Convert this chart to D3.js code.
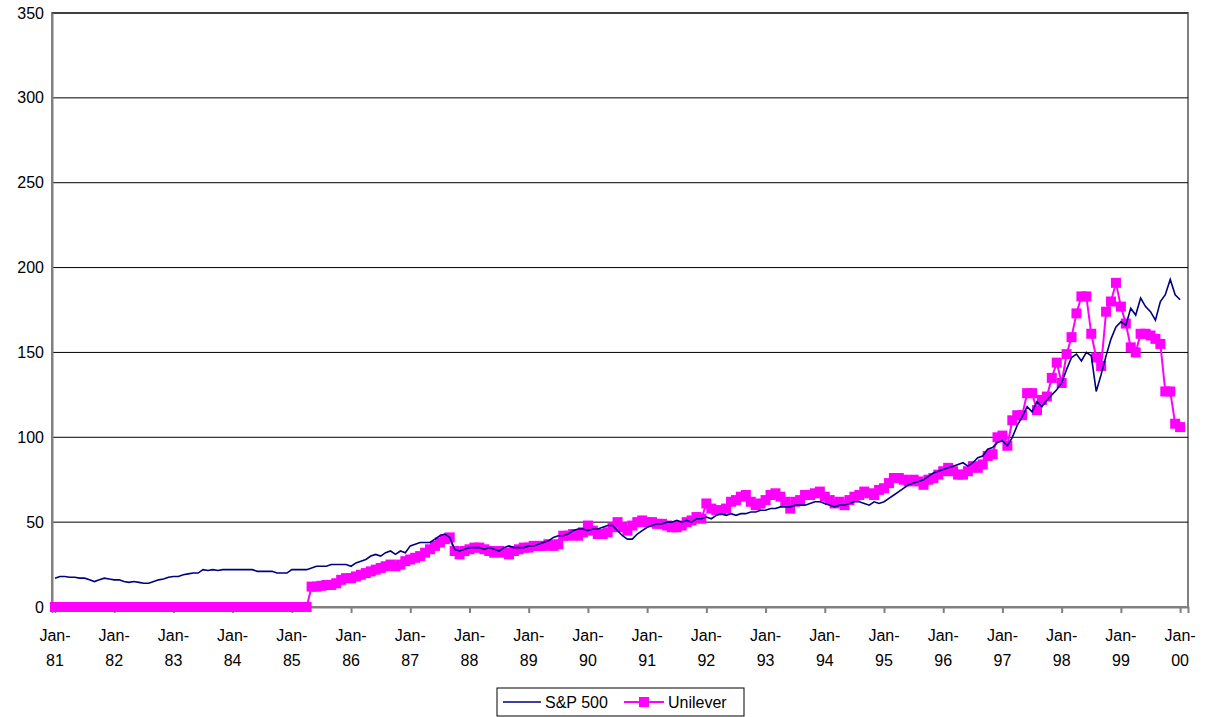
<!DOCTYPE html>
<html>
<head>
<meta charset="utf-8">
<script src="https://cdn.jsdelivr.net/npm/d3@7"></script>
<style>
  body { margin: 0; background: #fff; }
  text { font-family: Arial, "Liberation Sans", sans-serif; }
</style>
</head>
<body>
<svg id="chart" width="1207" height="717"></svg>
<script>
"use strict";

// monthly values, Jan-81 .. Jan-00
const sp500 = [
  17, 18, 18, 17.5, 17.5, 17, 17, 16, 15, 16, 17, 16.5,          // 81
  16, 16, 15, 14.5, 15, 14.5, 14, 14, 15, 16, 16.5, 17.5,       // 82
  18, 18, 19, 19.5, 20, 20, 22, 21.5, 22, 21.5, 22, 22,         // 83
  22, 22, 22, 22, 22, 21, 21, 21, 21, 20, 20, 20,               // 84
  22, 22, 22, 22, 23, 24, 24, 24, 25, 25, 25, 25,               // 85
  24, 26, 27, 28, 30, 31, 30, 32, 33, 31, 33, 32,               // 86
  36, 37, 38, 38, 38, 40, 42, 43, 41, 34, 33, 34,               // 87
  35, 35, 35, 34, 35, 34, 33, 35, 36, 35, 35, 35,               // 88
  36, 36, 37, 38, 39, 41, 42, 42, 43, 45, 46, 46,               // 89
  45, 46, 46, 47, 48, 48, 45, 42, 40, 40, 43, 45,               // 90
  47, 48, 49, 49, 50, 50, 51, 50, 51, 50, 52, 52,               // 91
  53, 52, 54, 55, 54, 55, 54, 55, 55, 56, 56, 57,               // 92
  57, 58, 58, 59, 59, 59, 60, 60, 60, 61, 62, 62,               // 93
  61, 60, 59, 60, 60, 61, 62, 62, 61, 60, 62, 61,               // 94
  62, 64, 66, 68, 70, 72, 73, 74, 75, 77, 79, 80,               // 95
  81, 82, 83, 84, 85, 83, 85, 88, 89, 93, 94, 97,               // 96
  98, 95, 100, 107, 112, 118, 115, 121, 118, 122, 125, 128,     // 97
  132, 140, 147, 149, 145, 150, 148, 127, 137, 148, 158, 165,   // 98
  168, 166, 176, 172, 182, 177, 174, 169, 180, 184, 193, 184,   // 99
  181                                                           // 00
]

const unilever = [
  0, 0, 0, 0, 0, 0, 0, 0, 0, 0, 0, 0,                           // 81
  0, 0, 0, 0, 0, 0, 0, 0, 0, 0, 0, 0,                           // 82
  0, 0, 0, 0, 0, 0, 0, 0, 0, 0, 0, 0,                           // 83
  0, 0, 0, 0, 0, 0, 0, 0, 0, 0, 0, 0,                           // 84
  0, 0, 0, 0, 12, 12, 12.5, 13, 13, 14, 16, 17,                 // 85
  17, 18, 19, 20, 21, 22, 23, 24, 25, 24, 25, 27,               // 86
  28, 29, 30, 32, 34, 36, 38, 40, 41, 33, 31, 33,               // 87
  34, 35, 35, 34, 33, 32, 33, 32, 31, 33, 34, 35,               // 88
  35, 36, 36, 36, 37, 36, 37, 42, 42, 43, 42, 44,               // 89
  48, 45, 43, 43, 44, 47, 50, 47, 45, 48, 50, 51,               // 90
  50, 50, 49, 49, 48, 47, 47, 48, 50, 51, 53, 52,               // 91
  61, 58, 57, 57, 58, 62, 63, 65, 66, 62, 60, 61,               // 92
  63, 66, 67, 65, 62, 58, 62, 63, 66, 66, 67, 68,               // 93
  65, 63, 61, 62, 60, 63, 65, 66, 68, 67, 66, 69,               // 94
  70, 73, 76, 76, 75, 74, 75, 74, 72, 75, 76, 78,               // 95
  80, 82, 80, 78, 78, 80, 83, 82, 84, 89, 90, 100,              // 96
  101, 95, 110, 113, 113, 126, 126, 116, 122, 124, 135, 144,    // 97
  132, 149, 159, 173, 183, 183, 161, 147, 142, 174, 180, 191,   // 98
  177, 167, 153, 150, 161, 161, 160, 158, 155, 127, 127, 108,   // 99
  106                                                           // 00
]

const years = ['81','82','83','84','85','86','87','88','89','90',
               '91','92','93','94','95','96','97','98','99','00']
const yTicks = [0, 50, 100, 150, 200, 250, 300, 350]

const m = { l: 52, r: 19, t: 13, b: 110 }
const W = 1207, H = 717
const pw = W - m.l - m.r, ph = H - m.t - m.b

const svg = d3.select('#chart')

const x = d3.scaleLinear().domain([-0.6, 229.6]).range([m.l, m.l + pw])
const y = d3.scaleLinear().domain([0, 350]).range([m.t + ph, m.t])

// plot frame
svg.append('rect')
  .attr('x', m.l).attr('y', m.t).attr('width', pw).attr('height', ph)
  .attr('fill', '#fff').attr('stroke', '#808080').attr('stroke-width', 2)

// gridlines
svg.append('g').selectAll('line').data(yTicks.slice(1))
  .join('line')
    .attr('x1', m.l).attr('x2', m.l + pw)
    .attr('y1', d => y(d)).attr('y2', d => y(d))
    .attr('stroke', '#000').attr('stroke-width', 1)

// y axis
const yAxis = svg.append('g')
  .attr('transform', `translate(${m.l},0)`)
  .call(d3.axisLeft(y).tickValues(yTicks).tickSize(0).tickPadding(8))
yAxis.select('.domain').attr('stroke', '#808080').attr('stroke-width', 2)
yAxis.selectAll('text').attr('font-size', 16).attr('fill', '#000')
  .attr('font-family', 'Arial, "Liberation Sans", sans-serif')

// x axis
const xAxis = svg.append('g')
  .attr('transform', `translate(0,${m.t + ph})`)
  .call(d3.axisBottom(x).tickValues(years.map((_, i) => i * 12))
    .tickSize(6).tickFormat(''))
xAxis.select('.domain').attr('stroke', '#808080').attr('stroke-width', 2)
xAxis.selectAll('.tick line').attr('stroke', '#808080').attr('stroke-width', 2)

const xl = svg.append('g').selectAll('text').data(years)
  .join('text')
    .attr('x', (d, i) => x(i * 12))
    .attr('text-anchor', 'middle')
    .attr('font-size', 16)
xl.append('tspan').attr('x', (d, i) => x(i * 12)).attr('y', 641).text('Jan-')
xl.append('tspan').attr('x', (d, i) => x(i * 12)).attr('y', 666).text(d => d)

// series
const line = d3.line().x((d, i) => x(i)).y(d => y(d))

svg.append('path').datum(unilever)
  .attr('d', line).attr('fill', 'none')
  .attr('stroke', '#ff00ff').attr('stroke-width', 2)

svg.append('g').selectAll('rect').data(unilever)
  .join('rect')
    .attr('x', (d, i) => x(i) - 5).attr('y', d => y(d) - 5)
    .attr('width', 10).attr('height', 10)
    .attr('fill', '#ff00ff')

svg.append('path').datum(sp500)
  .attr('d', line).attr('fill', 'none')
  .attr('stroke', '#000080').attr('stroke-width', 1.6)

// legend
const lg = svg.append('g').attr('transform', 'translate(497,688)')
lg.append('rect').attr('width', 247).attr('height', 28)
  .attr('fill', '#fff').attr('stroke', '#000')
lg.append('line').attr('x1', 6).attr('x2', 44).attr('y1', 14).attr('y2', 14)
  .attr('stroke', '#000080').attr('stroke-width', 1.6)
lg.append('text').attr('x', 48).attr('y', 20).attr('font-size', 16).text('S&P 500')
lg.append('line').attr('x1', 127).attr('x2', 167).attr('y1', 14).attr('y2', 14)
  .attr('stroke', '#ff00ff').attr('stroke-width', 2)
lg.append('rect').attr('x', 142).attr('y', 9).attr('width', 10).attr('height', 10)
  .attr('fill', '#ff00ff')
lg.append('text').attr('x', 171).attr('y', 20).attr('font-size', 16).text('Unilever')
</script>
</body>
</html>
